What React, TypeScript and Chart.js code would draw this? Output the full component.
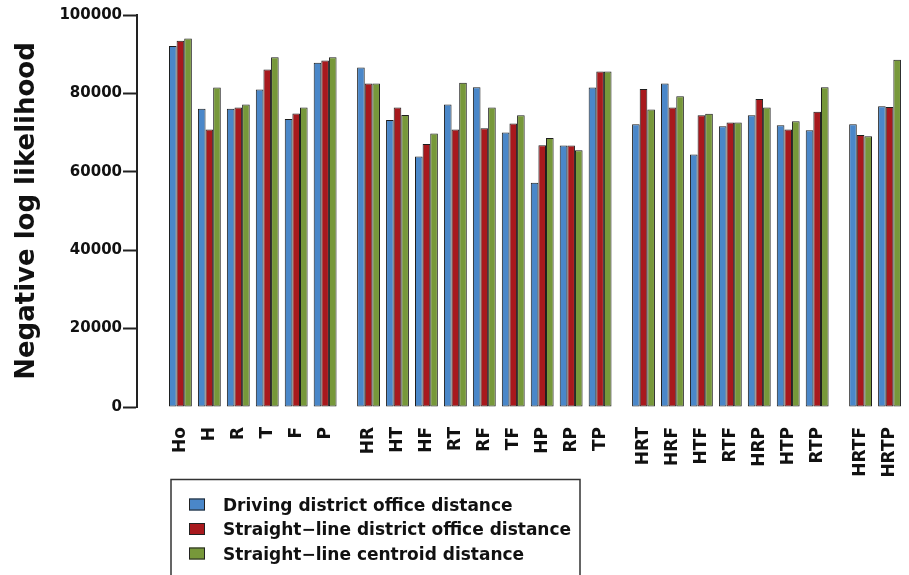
import React, { useEffect, useRef } from "react";
import { Chart, registerables } from "chart.js";

Chart.register(...registerables);

// Model groups (gaps are drawn between groups)
const groups: string[][] = [
  ["Ho", "H", "R", "T", "F", "P"],
  ["HR", "HT", "HF", "RT", "RF", "TF", "HP", "RP", "TP"],
  ["HRT", "HRF", "HTF", "RTF", "HRP", "HTP", "RTP"],
  ["HRTF", "HRTP"],
];
const categories: string[] = groups.flat();

const seriesNames = [
  "Driving district office distance",
  "Straight\u2212line district office distance",
  "Straight\u2212line centroid distance",
];

const drivingOffice = [
  92100, 76100, 76100, 81000, 73500, 87800,
  86600, 73200, 63900, 77200, 81600, 70000, 57200, 66700, 81500,
  72100, 82500, 64400, 71600, 74400, 71900, 70600,
  72100, 76700,
];
const straightOffice = [
  93400, 70800, 76400, 86100, 74900, 88400,
  82500, 76400, 67100, 70800, 71100, 72300, 66800, 66700, 85600,
  81100, 76400, 74400, 72600, 78600, 70800, 75300,
  69400, 76500,
];
const straightCentroid = [
  94000, 81500, 77200, 89200, 76400, 89200,
  82500, 74500, 69800, 82700, 76400, 74400, 68600, 65500, 85600,
  75900, 79300, 74800, 72600, 76400, 72900, 81600,
  69100, 88600,
];

const yTicks = [0, 20000, 40000, 60000, 80000, 100000];

const colors = ["#4a87c9", "#a8191d", "#77983a"];
const FONT = "DejaVu Sans";

export default function App() {
  const ref = useRef<HTMLCanvasElement>(null);

  useEffect(() => {
    if (!ref.current) return;
    // x position of each category: index plus half a slot per preceding group gap
    const positions: number[] = [];
    groups.forEach((g, gi) => {
      g.forEach(() => positions.push(positions.length + gi * 0.5));
    });
    const seriesValues = [drivingOffice, straightOffice, straightCentroid];

    const legendBox = {
      id: "legendBox",
      afterDraw(chart: any) {
        const ctx = chart.ctx;
        ctx.save();
        ctx.strokeStyle = "#333";
        ctx.lineWidth = 1.5;
        ctx.beginPath();
        ctx.moveTo(171, 590);
        ctx.lineTo(171, 479.5);
        ctx.lineTo(580, 479.5);
        ctx.lineTo(580, 590);
        ctx.stroke();
        ctx.font = `bold 17px "${FONT}"`;
        ctx.textBaseline = "alphabetic";
        ctx.textAlign = "left";
        chart.data.datasets.forEach((ds: any, i: number) => {
          const cy = 504.5 + i * 24.5;
          ctx.fillStyle = ds.backgroundColor;
          ctx.fillRect(189, cy - 6, 16, 12);
          ctx.strokeStyle = "#222";
          ctx.lineWidth = 1;
          ctx.strokeRect(189.5, cy - 5.5, 15, 11);
          ctx.fillStyle = "#111";
          ctx.fillText(ds.label, 223, cy + 6.3);
        });
        ctx.restore();
      },
    };

    const chart = new Chart(ref.current, {
      type: "bar",
      data: {
        datasets: seriesValues.map((vals, si) => ({
          label: seriesNames[si],
          data: vals.map((v, i) => ({ x: positions[i], y: v })),
          backgroundColor: colors[si],
          borderColor: "#1e1e1e",
          borderWidth: 1,
          borderSkipped: false,
          categoryPercentage: 0.79,
          barPercentage: 1,
        })),
      },
      options: {
        responsive: false,
        animation: false,
        layout: { padding: { top: 15, left: 0, right: 5, bottom: 88 } },
        plugins: { legend: { display: false }, tooltip: { enabled: false } },
        scales: {
          x: {
            type: "linear",
            min: -1.5,
            max: 25,
            offset: false,
            grid: { display: false, drawTicks: false },
            border: { display: false },
            afterBuildTicks: (scale: any) => {
              scale.ticks = positions.map((v) => ({ value: v }));
            },
            afterFit: (scale: any) => {
              scale.height = 80;
              scale.paddingLeft = 0;
              scale.paddingRight = 0;
            },
            ticks: {
              autoSkip: false,
              maxRotation: 90,
              minRotation: 90,
              padding: 20,
              color: "#111",
              font: { family: FONT, size: 17, weight: "bold" },
              callback: (_v: any, i: number) => categories[i],
            },
          },
          y: {
            min: 0,
            max: 100000,
            afterBuildTicks: (scale: any) => {
              scale.ticks = yTicks.map((v) => ({ value: v }));
            },
            afterFit: (scale: any) => {
              scale.width = 137;
              scale.paddingTop = 0;
              scale.paddingBottom = 0;
            },
            grid: {
              drawOnChartArea: false,
              drawTicks: true,
              tickLength: 14,
              tickColor: "#222",
              tickWidth: 2,
            },
            border: { display: true, color: "#222", width: 2 },
            ticks: {
              padding: 1,
              color: "#111",
              font: { family: FONT, size: 15, weight: "bold" },
              callback: (v: any) => String(v),
            },
            title: {
              display: true,
              text: "Negative log likelihood",
              color: "#111",
              font: { family: FONT, size: 26, weight: "bold" },
              padding: { top: 12, bottom: 0 },
            },
          },
        },
      },
      plugins: [legendBox],
    });
    return () => chart.destroy();
  }, []);

  return (
    <div style={{ position: "absolute", left: 0, top: 0, width: 909, height: 575, background: "#fff" }}>
      <canvas ref={ref} width={909} height={575} style={{ display: "block" }} />
    </div>
  );
}
